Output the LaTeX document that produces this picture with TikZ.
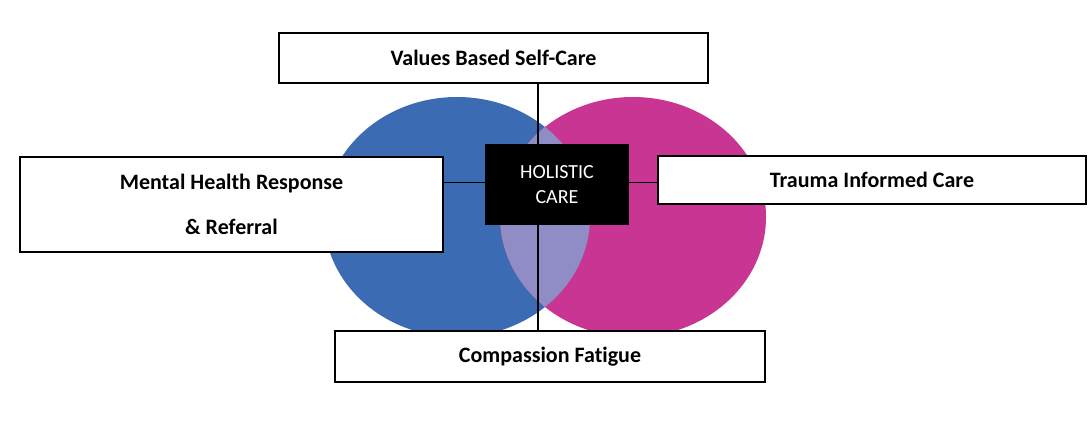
\documentclass[tikz,border=0pt]{standalone}
\usepackage{fontspec}
\setmainfont{Carlito}[Ligatures=NoCommon]
\definecolor{mhblue}{HTML}{3B6CB3}
\definecolor{tipink}{HTML}{C93592}
\definecolor{mixlav}{HTML}{8F8CC6}
\pgfdeclarelayer{shapes}
\pgfdeclarelayer{links}
\pgfsetlayers{shapes,links,main}
\tikzset{
  labelbox/.style={draw=black, fill=white, line width=0.75pt, inner sep=0pt, outer sep=0pt,
    font=\fontsize{11}{13.5}\selectfont\bfseries, align=center},
  corebox/.style={fill=black, text=white, inner sep=0pt, outer sep=0pt,
    font=\fontsize{10}{12.5}\selectfont, align=center},
  link/.style={line width=0.75pt}
}
\begin{document}
\begin{tikzpicture}[x=0.5pt, y=-0.5pt]
  \begin{pgfonlayer}{shapes}
  \useasboundingbox[fill=white] (0,0) rectangle (1090,422);
  % the two circles and their overlap
  \fill[mhblue] (457,217) ellipse [x radius=66.5pt, y radius=60pt];
  \fill[tipink] (633,217) ellipse [x radius=66.5pt, y radius=60pt];
  \begin{scope}
    \clip (457,217) ellipse [x radius=66.5pt, y radius=60pt];
    \fill[mixlav] (633,217) ellipse [x radius=66.5pt, y radius=60pt];
  \end{scope}
  \end{pgfonlayer}
  % boxes
  \node[labelbox, minimum width=214.5pt, minimum height=25pt] (selfcare) at (493.5,58) {Values Based Self-Care};
  \node[labelbox, minimum width=211.5pt, minimum height=47.5pt] (mentalhealth) at (231.5,204.5) {Mental Health Response\\[9pt] \& Referral};
  \node[labelbox, minimum width=214pt, minimum height=24pt] (trauma) at (872,180) {Trauma Informed Care};
  \node[labelbox, minimum width=215pt, minimum height=25.5pt] (fatigue) at (550,356.5) {Compassion Fatigue};
  \node[corebox, minimum width=72pt, minimum height=40.5pt] (holistic) at (557,184.5) {HOLISTIC\\CARE};
  % connectors
  \coordinate (vaxis) at (538,0);
  \coordinate (haxis) at (0,182.5);
  \begin{pgfonlayer}{links}
  \draw[link] (selfcare.south -| vaxis) -- (fatigue.north -| vaxis);
  \draw[link] (mentalhealth.east |- haxis) -- (holistic.west |- haxis);
  \draw[link] (holistic.east |- haxis) -- (trauma.west |- haxis);
  \end{pgfonlayer}
\end{tikzpicture}
\end{document}
